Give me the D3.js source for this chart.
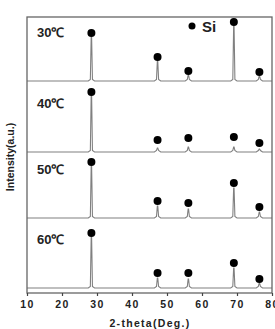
<!DOCTYPE html>
<html>
<head>
<meta charset="utf-8">
<script src="https://cdn.jsdelivr.net/npm/d3@7"></script>
<style>
  body { margin: 0; background: #fff; }
  text { font-family: "Liberation Sans", Arial, sans-serif; }
</style>
</head>
<body>
<script>
// Si peak positions (2-theta)
const peakPos = [28.4, 47.3, 56.1, 69.1, 76.4];
const temps = ["30℃", "40℃", "50℃", "60℃"];
// offsets of each spectrum (a.u.)
const offsets = [212, 141, 75, 5];
// peak heights above each baseline
const peaks30 = [44, 20, 6, 55, 5];
const peaks40 = [57, 4, 5, 5, 3];
const peaks50 = [52, 12, 9, 30, 6];
const peaks60 = [51, 10, 9, 20, 5];
// height of Si markers above baseline
const dots30 = [48, 24, 10, 59, 9];
const dots40 = [60, 12, 14, 15, 9];
const dots50 = [56, 17, 15, 35, 11];
const dots60 = [55, 15, 15, 25, 9];
const xTicks = [10, 20, 30, 40, 50, 60, 70, 80];

const allPeaks = [peaks30, peaks40, peaks50, peaks60];
const allDots = [dots30, dots40, dots50, dots60];

var width = 275, height = 329;
const m = {left: 27, right: 272, top: 17, bottom: 293};

let x = d3.scaleLinear().domain([10, 80]).range([m.left, m.right]);
let y = d3.scaleLinear().domain([0, 276]).range([m.bottom, m.top]);

let svg = d3.select("body").append("svg")
  .attr("width", width)
  .attr("height", height);

// build each spectrum as baseline + narrow peaks
function spectrum(peaks, off) {
  let pts = [[10, off]];
  peakPos.forEach((p, i) => {
    pts.push([p - 0.9, off], [p - 0.3, off + 1.5], [p - 0.06, off + peaks[i]],
             [p + 0.06, off + peaks[i]], [p + 0.3, off + 1.5], [p + 0.9, off]);
  });
  pts.push([80, off]);
  return pts;
}

let line = d3.line().x(d => x(d[0])).y(d => y(d[1]));

allPeaks.forEach((pk, k) => {
  svg.append("path")
    .attr("d", line(spectrum(pk, offsets[k])))
    .attr("fill", "none")
    .attr("stroke", "#808080")
    .attr("stroke-width", 1.1);

  svg.selectAll(null)
    .data(peakPos)
    .join("circle")
    .attr("cx", d => x(d))
    .attr("cy", (d, i) => y(offsets[k] + allDots[k][i]))
    .attr("r", 4)
    .attr("fill", "#000");

  svg.append("text")
    .attr("x", 37)
    .attr("y", y(offsets[k] + 44))
    .attr("font-size", 13)
    .attr("font-weight", "bold")
    .attr("fill", "#222")
    .text(temps[k]);
});

// frame
svg.append("rect")
  .attr("x", m.left).attr("y", m.top)
  .attr("width", m.right - m.left).attr("height", m.bottom - m.top)
  .attr("fill", "none").attr("stroke", "#666").attr("stroke-width", 1.3);

// x axis
let xAxis = svg.append("g")
  .attr("transform", `translate(0,${m.bottom})`)
  .call(d3.axisBottom(x).tickValues(xTicks).tickSize(3).tickPadding(5));
xAxis.select(".domain").remove();
xAxis.selectAll("line").attr("stroke", "#444").attr("stroke-width", 1.2);
xAxis.selectAll("text")
  .attr("font-size", 10.5)
  .attr("font-weight", "bold")
  .attr("letter-spacing", "1.5px")
  .attr("fill", "#222");

svg.append("text")
  .attr("x", 150).attr("y", 327)
  .attr("text-anchor", "middle")
  .attr("font-size", 10.5)
  .attr("font-weight", "bold")
  .attr("letter-spacing", "1.3px")
  .attr("fill", "#222")
  .text("2-theta(Deg.)");

svg.append("text")
  .attr("transform", "translate(14,157) rotate(-90)")
  .attr("text-anchor", "middle")
  .attr("font-size", 10.5)
  .attr("font-weight", "bold")
  .attr("fill", "#222")
  .text("Intensity(a.u.)");

// legend
svg.append("circle").attr("cx", 192).attr("cy", 26).attr("r", 3.5).attr("fill", "#000");
svg.append("text")
  .attr("x", 202).attr("y", 31.5)
  .attr("font-size", 15)
  .attr("font-weight", "bold")
  .attr("fill", "#222")
  .text("Si");
</script>
</body>
</html>
